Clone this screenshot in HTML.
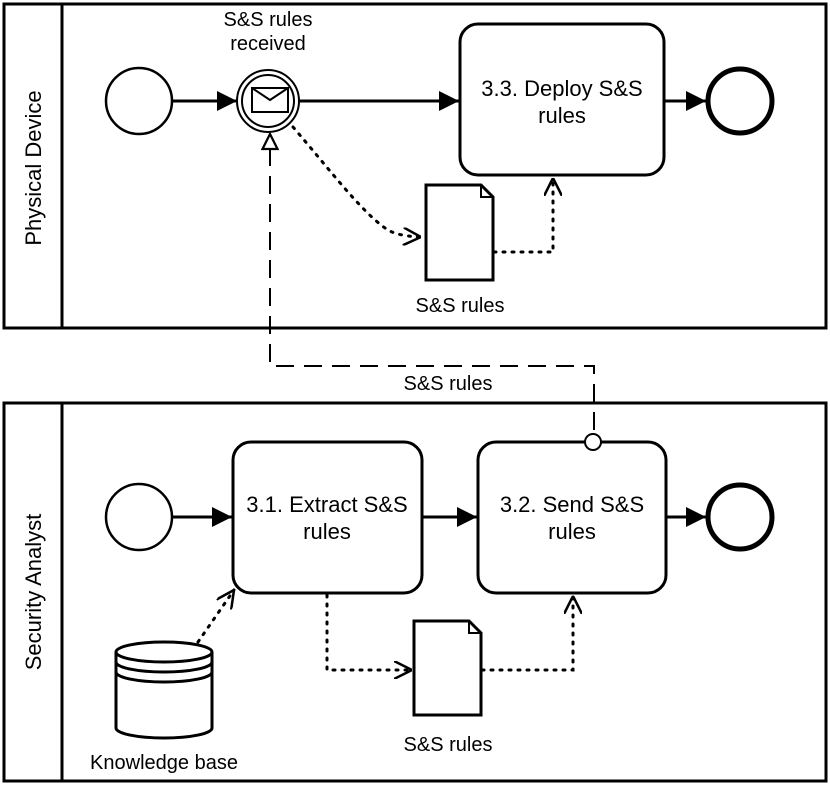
<!DOCTYPE html>
<html><head><meta charset="utf-8"><style>
html,body{margin:0;padding:0;background:#fff}
svg{display:block}
text{font-family:"Liberation Sans",Arial,sans-serif;font-size:20px;fill:#000}
.t{font-size:22px}
</style></head><body>
<svg width="830" height="789" viewBox="0 0 830 789" xmlns="http://www.w3.org/2000/svg">
<defs>
<marker id="fa" viewBox="0 0 10 10" refX="10" refY="5" markerWidth="20" markerHeight="20" markerUnits="userSpaceOnUse" orient="auto"><path d="M0,0 L10,5 L0,10 z" fill="#000"/></marker>
<marker id="oa" viewBox="0 0 10 10" refX="10" refY="5" markerWidth="18" markerHeight="18" markerUnits="userSpaceOnUse" orient="auto"><path d="M0,0 L10,5 L0,10" fill="none" stroke="#000" stroke-width="1.4"/></marker>
<marker id="ta" viewBox="0 0 12 12" refX="11" refY="6" markerWidth="18" markerHeight="18" markerUnits="userSpaceOnUse" orient="auto"><path d="M1,1 L11,6 L1,11 z" fill="#fff" stroke="#000" stroke-width="1.5"/></marker>
</defs>
<g fill="none" stroke="#000" stroke-width="3">
<rect x="4" y="4" width="822" height="324"/>
<line x1="62" y1="4" x2="62" y2="328"/>
<rect x="4" y="403" width="822" height="378"/>
<line x1="62" y1="403" x2="62" y2="781"/>
</g>
<text class="t" transform="translate(41,168) rotate(-90)" text-anchor="middle">Physical Device</text>
<text class="t" transform="translate(41,592) rotate(-90)" text-anchor="middle">Security Analyst</text>

<circle cx="139" cy="101" r="33" fill="#fff" stroke="#000" stroke-width="2.5"/>
<line x1="172" y1="101" x2="237" y2="101" stroke="#000" stroke-width="3" marker-end="url(#fa)"/>
<circle cx="268" cy="101" r="31" fill="#fff" stroke="#000" stroke-width="2"/>
<circle cx="268" cy="101" r="26" fill="#fff" stroke="#000" stroke-width="2"/>
<rect x="252" y="88" width="36" height="24" fill="#fff" stroke="#000" stroke-width="2"/>
<path d="M252,88 L270,100 L288,88" fill="none" stroke="#000" stroke-width="2"/>
<text x="268" y="26" text-anchor="middle">S&amp;S rules</text>
<text x="268" y="50" text-anchor="middle">received</text>
<line x1="299" y1="101" x2="459" y2="101" stroke="#000" stroke-width="3" marker-end="url(#fa)"/>
<rect x="460" y="24" width="204" height="151" rx="18" fill="#fff" stroke="#000" stroke-width="3"/>
<text class="t" x="562" y="96" text-anchor="middle">3.3. Deploy S&amp;S</text>
<text class="t" x="562" y="123" text-anchor="middle">rules</text>
<line x1="664" y1="101" x2="706" y2="101" stroke="#000" stroke-width="3" marker-end="url(#fa)"/>
<circle cx="740" cy="101" r="32" fill="#fff" stroke="#000" stroke-width="5"/>
<path d="M293,127 C330,170 360,210 385,228 Q395,236 421,237" fill="none" stroke="#000" stroke-width="3" stroke-dasharray="2,7" stroke-linecap="round" marker-end="url(#oa)"/>
<path d="M426,185 L481,185 L493,197 L493,280 L426,280 Z" fill="#fff" stroke="#000" stroke-width="3"/>
<path d="M481,185 L481,197 L493,197" fill="none" stroke="#000" stroke-width="2"/>
<text x="460" y="312" text-anchor="middle">S&amp;S rules</text>
<path d="M494,252 L553,252 L553,178" fill="none" stroke="#000" stroke-width="3" stroke-dasharray="2,7" stroke-linecap="round" marker-end="url(#oa)"/>

<path d="M594,430 L594,366 L270,366 L270,134" fill="none" stroke="#000" stroke-width="2" stroke-dasharray="18,10" marker-end="url(#ta)"/>
<text x="448" y="390" text-anchor="middle">S&amp;S rules</text>

<circle cx="139" cy="517" r="33" fill="#fff" stroke="#000" stroke-width="2.5"/>
<line x1="172" y1="517" x2="232" y2="517" stroke="#000" stroke-width="3" marker-end="url(#fa)"/>
<rect x="233" y="442" width="189" height="151" rx="18" fill="#fff" stroke="#000" stroke-width="3"/>
<text class="t" x="327" y="512" text-anchor="middle">3.1. Extract S&amp;S</text>
<text class="t" x="327" y="539" text-anchor="middle">rules</text>
<line x1="422" y1="517" x2="477" y2="517" stroke="#000" stroke-width="3" marker-end="url(#fa)"/>
<rect x="478" y="442" width="188" height="151" rx="18" fill="#fff" stroke="#000" stroke-width="3"/>
<text class="t" x="572" y="512" text-anchor="middle">3.2. Send S&amp;S</text>
<text class="t" x="572" y="539" text-anchor="middle">rules</text>
<circle cx="593" cy="442" r="8" fill="#fff" stroke="#000" stroke-width="2"/>
<line x1="666" y1="517" x2="706" y2="517" stroke="#000" stroke-width="3" marker-end="url(#fa)"/>
<circle cx="740" cy="517" r="32" fill="#fff" stroke="#000" stroke-width="5"/>

<path d="M116,652 L116,728 A48,10 0 0 0 212,728 L212,652" fill="#fff" stroke="#000" stroke-width="3"/>
<ellipse cx="164" cy="652" rx="48" ry="10" fill="#fff" stroke="#000" stroke-width="3"/>
<path d="M116,662 A48,10 0 0 0 212,662 M116,672 A48,10 0 0 0 212,672" fill="none" stroke="#000" stroke-width="3"/>
<text x="164" y="769" text-anchor="middle">Knowledge base</text>
<path d="M198,642 L234,590" fill="none" stroke="#000" stroke-width="3" stroke-dasharray="2,7" stroke-linecap="round" marker-end="url(#oa)"/>

<path d="M327,595 L327,670 L412,670" fill="none" stroke="#000" stroke-width="3" stroke-dasharray="2,7" stroke-linecap="round" marker-end="url(#oa)"/>
<path d="M414,621 L469,621 L481,633 L481,715 L414,715 Z" fill="#fff" stroke="#000" stroke-width="3"/>
<path d="M469,621 L469,633 L481,633" fill="none" stroke="#000" stroke-width="2"/>
<text x="448" y="751" text-anchor="middle">S&amp;S rules</text>
<path d="M482,670 L573,670 L573,596" fill="none" stroke="#000" stroke-width="3" stroke-dasharray="2,7" stroke-linecap="round" marker-end="url(#oa)"/>
</svg>
</body></html>
